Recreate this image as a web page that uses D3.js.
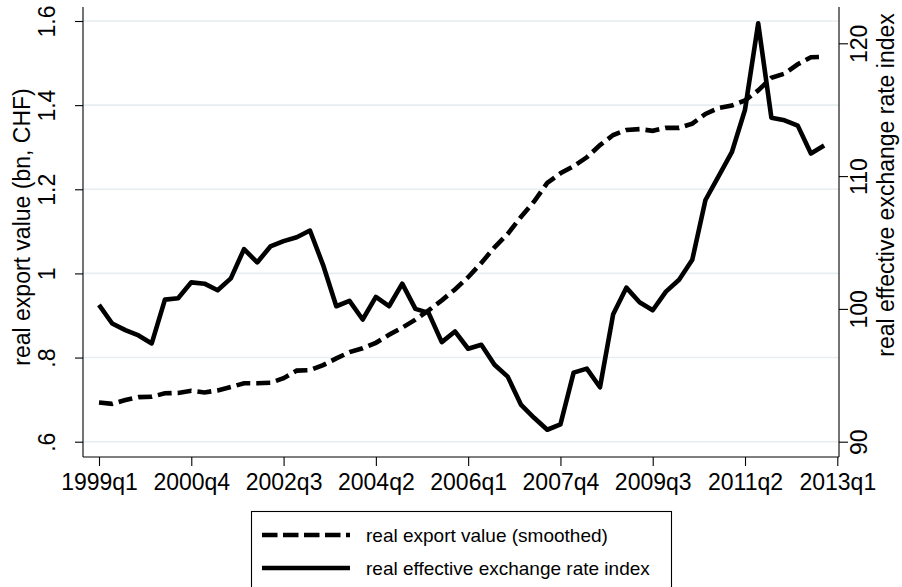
<!DOCTYPE html>
<html>
<head>
<meta charset="utf-8">
<script src="https://cdn.jsdelivr.net/npm/d3@7"></script>
<style>
  html, body { margin: 0; padding: 0; background: #fff; }
  svg { display: block; font-family: "Liberation Sans", Arial, Helvetica, sans-serif; }
</style>
</head>
<body>
<svg id="chart" width="902" height="587"></svg>
<script>
// Quarters on the time axis (the last one only carries a tick label)
const quarters = [
  "1999q1","1999q2","1999q3","1999q4","2000q1","2000q2","2000q3","2000q4",
  "2001q1","2001q2","2001q3","2001q4","2002q1","2002q2","2002q3","2002q4",
  "2003q1","2003q2","2003q3","2003q4","2004q1","2004q2","2004q3","2004q4",
  "2005q1","2005q2","2005q3","2005q4","2006q1","2006q2","2006q3","2006q4",
  "2007q1","2007q2","2007q3","2007q4","2008q1","2008q2","2008q3","2008q4",
  "2009q1","2009q2","2009q3","2009q4","2010q1","2010q2","2010q3","2010q4",
  "2011q1","2011q2","2011q3","2011q4","2012q1","2012q2","2012q3","2012q4",
  "2013q1"
];

// Real export value, smoothed (bn CHF), left axis
const exportValue = [
  0.693, 0.690, 0.699, 0.706, 0.707, 0.715, 0.716, 0.721,
  0.717, 0.722, 0.730, 0.739, 0.739, 0.740, 0.751, 0.769,
  0.770, 0.782, 0.798, 0.813, 0.822, 0.835, 0.854, 0.871,
  0.890, 0.912, 0.936, 0.962, 0.991, 1.025, 1.062, 1.094,
  1.134, 1.171, 1.215, 1.238, 1.255, 1.276, 1.305, 1.329,
  1.341, 1.343, 1.339, 1.346, 1.346, 1.356, 1.379, 1.393,
  1.399, 1.411, 1.435, 1.465, 1.475, 1.497, 1.514, 1.515
];

// Real effective exchange rate index, right axis
const reer = [
  100.3, 98.9, 98.4, 98.0, 97.4, 100.7, 100.8, 102.0,
  101.9, 101.4, 102.3, 104.5, 103.5, 104.7, 105.1, 105.4,
  105.9, 103.3, 100.2, 100.6, 99.2, 100.9, 100.2, 101.9,
  100.0, 99.7, 97.5, 98.3, 97.0, 97.3, 95.8, 94.9,
  92.8, 91.8, 90.9, 91.3, 95.2, 95.5, 94.1, 99.6,
  101.6, 100.5, 99.9, 101.3, 102.2, 103.7, 108.2, 110.0,
  111.8, 115.0, 121.5, 114.4, 114.2, 113.8, 111.7, 112.3
];

const xTickLabels = ["1999q1","2000q4","2002q3","2004q2","2006q1","2007q4","2009q3","2011q2","2013q1"];
const leftTicks = [0.6, 0.8, 1.0, 1.2, 1.4, 1.6];
const leftTickLabels = [".6", ".8", "1", "1.2", "1.4", "1.6"];
const rightTicks = [90, 100, 110, 120];
const rightTickLabels = ["90", "100", "110", "120"];

const seriesNames = ["real export value (smoothed)", "real effective exchange rate index"];
const leftTitle = "real export value (bn, CHF)";
const rightTitle = "real effective exchange rate index";

// Frame of the plot region
const frame = { left: 83, right: 839, top: 7, bottom: 457 };

const svg = d3.select("#chart");

const x = d3.scalePoint().domain(quarters).range([99, 837.3]);
const yL = d3.scaleLinear().domain([0.6, 1.6]).range([441.7, 21]);
const yR = d3.scaleLinear().domain([90, 120]).range([441.7, 43.3]);

// Grid lines at the left-axis ticks
svg.append("g")
  .selectAll("line")
  .data(leftTicks)
  .join("line")
  .attr("x1", frame.left).attr("x2", frame.right)
  .attr("y1", d => yL(d)).attr("y2", d => yL(d))
  .attr("stroke", "#e6eef1")
  .attr("stroke-width", 1.6);

// Left axis
const gL = svg.append("g")
  .attr("transform", `translate(${frame.left},0)`)
  .call(d3.axisLeft(yL).tickValues(leftTicks).tickSize(8).tickSizeOuter(0)
    .tickFormat((d, i) => leftTickLabels[i]));
gL.select(".domain").remove();
gL.selectAll(".tick line").attr("stroke", "#000").attr("stroke-width", 1.1);
gL.selectAll(".tick text")
  .attr("x", null).attr("dy", null).attr("y", null)
  .attr("transform", "translate(-28,0) rotate(-90)")
  .attr("text-anchor", "middle")
  .attr("font-size", 23)
  .attr("font-family", null)
  .attr("fill", "#000");

// Right axis
const gR = svg.append("g")
  .attr("transform", `translate(${frame.right},0)`)
  .call(d3.axisRight(yR).tickValues(rightTicks).tickSize(9).tickSizeOuter(0)
    .tickFormat((d, i) => rightTickLabels[i]));
gR.select(".domain").remove();
gR.selectAll(".tick line").attr("stroke", "#000").attr("stroke-width", 1.1);
gR.selectAll(".tick text")
  .attr("x", null).attr("dy", null).attr("y", null)
  .attr("transform", "translate(28,0) rotate(-90)")
  .attr("text-anchor", "middle")
  .attr("font-size", 23)
  .attr("font-family", null)
  .attr("fill", "#000");

// Bottom axis
const xTickValues = xTickLabels;
const gB = svg.append("g")
  .attr("transform", `translate(0,${frame.bottom})`)
  .call(d3.axisBottom(x).tickValues(xTickValues).tickSize(9).tickSizeOuter(0));
gB.select(".domain").remove();
gB.selectAll(".tick line").attr("stroke", "#000").attr("stroke-width", 1.1);
gB.selectAll(".tick text")
  .attr("dy", null)
  .attr("y", 33)
  .attr("font-size", 23)
  .attr("font-family", null)
  .attr("fill", "#000");

// Axis lines
const axisLines = [
  [frame.left, frame.top, frame.left, frame.bottom],
  [frame.right, frame.top, frame.right, frame.bottom],
  [frame.left, frame.bottom, frame.right, frame.bottom]
];
svg.append("g")
  .selectAll("line")
  .data(axisLines)
  .join("line")
  .attr("x1", d => d[0]).attr("y1", d => d[1])
  .attr("x2", d => d[2]).attr("y2", d => d[3])
  .attr("stroke", "#000")
  .attr("stroke-width", 1.1);

// Axis titles
svg.append("text")
  .attr("transform", `translate(30,227) rotate(-90)`)
  .attr("text-anchor", "middle")
  .attr("font-size", 23)
  .text(leftTitle);

svg.append("text")
  .attr("transform", `translate(894,185) rotate(-90)`)
  .attr("text-anchor", "middle")
  .attr("font-size", 23)
  .text(rightTitle);

// Series
const lineExport = d3.line()
  .x((d, i) => x(quarters[i]))
  .y(d => yL(d));
const lineReer = d3.line()
  .x((d, i) => x(quarters[i]))
  .y(d => yR(d));

svg.append("path")
  .datum(exportValue)
  .attr("d", lineExport)
  .attr("fill", "none")
  .attr("stroke", "#000")
  .attr("stroke-width", 4.6)
  .attr("stroke-dasharray", "14,6");

svg.append("path")
  .datum(reer)
  .attr("d", lineReer)
  .attr("fill", "none")
  .attr("stroke", "#000")
  .attr("stroke-width", 4.6)
  .attr("stroke-linejoin", "round");

// Legend
const legend = svg.append("g");
legend.append("rect")
  .attr("x", 251.5).attr("y", 511.5)
  .attr("width", 420).attr("height", 90)
  .attr("fill", "#fff")
  .attr("stroke", "#000")
  .attr("stroke-width", 1.1);

const legendRows = legend.selectAll("g.row")
  .data(seriesNames)
  .join("g")
  .attr("class", "row")
  .attr("transform", (d, i) => `translate(0,${i === 0 ? 535 : 568})`);

legendRows.append("line")
  .attr("x1", 262).attr("x2", 350)
  .attr("y1", 0).attr("y2", 0)
  .attr("stroke", "#000")
  .attr("stroke-width", 4.6)
  .attr("stroke-dasharray", (d, i) => i === 0 ? "15.5,5.5" : null);

legendRows.append("text")
  .attr("x", 366)
  .attr("y", 6.5)
  .attr("font-size", 19)
  .text(d => d);
</script>
</body>
</html>
